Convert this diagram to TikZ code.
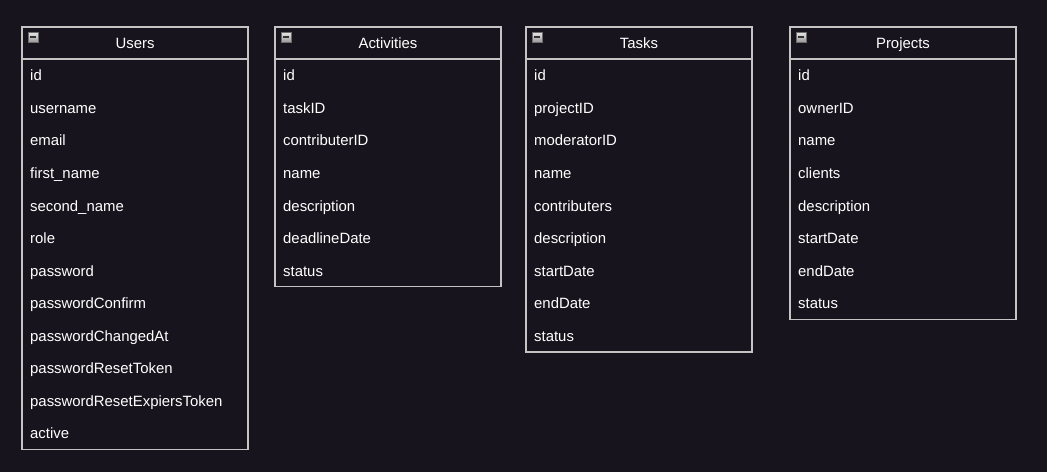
\documentclass[tikz,border=0pt]{standalone}
\usepackage{fontspec}
\setmainfont{Liberation Sans}
\definecolor{bgc}{HTML}{18141D}
\definecolor{framec}{HTML}{C4C4C4}
\definecolor{iconhi}{HTML}{E8E8E8}
\definecolor{iconlo}{HTML}{9A9A9A}
\tikzset{
  framebox/.style={draw=framec,line width=1.2pt},
  fieldtext/.style={anchor=base west,text=white,inner sep=0pt,font=\fontsize{14.9}{17}\selectfont},
  titletext/.style={anchor=base,text=white,inner sep=0pt,font=\fontsize{14.9}{17}\selectfont},
  iconbox/.style={draw=iconlo!70!black,line width=0.6pt,top color=iconhi,bottom color=iconlo},
  iconbar/.style={draw=black!80,line width=1.6pt}
}
\newcommand\mkentity[5]{%
  \pgfmathsetmacro\xr{#2+226}%
  \pgfmathsetmacro\yb{59+32.55*#4}%
  \pgfmathsetmacro\xc{#2+113}%
  \draw[framebox] (#2,27) rectangle (\xr,\yb);
  \draw[framebox] (#2,59) -- (\xr,59);
  \node[titletext] (#1-title) at (\xc,48.5) {#3};
  \shade[iconbox] ({#2+6},32) rectangle ({#2+16},42);
  \draw[iconbar] ({#2+8},37) -- ({#2+14},37);
  \foreach \f [count=\i] in {#5} {
    \node[fieldtext] (#1-\i) at ({#2+8},{80.8+32.55*(\i-1)}) {\f};
  }
}
\begin{document}
\begin{tikzpicture}[x=1pt,y=-1pt]
\fill[bgc] (0,0) rectangle (1047,472);
\useasboundingbox (0,0) rectangle (1047,472);
\mkentity{users}{22}{Users}{12}{id,username,email,first\_name,second\_name,role,password,passwordConfirm,passwordChangedAt,passwordResetToken,passwordResetExpiersToken,active}
\mkentity{activities}{275}{Activities}{7}{id,taskID,contributerID,name,description,deadlineDate,status}
\mkentity{tasks}{526}{Tasks}{9}{id,projectID,moderatorID,name,contributers,description,startDate,endDate,status}
\mkentity{projects}{790}{Projects}{8}{id,ownerID,name,clients,description,startDate,endDate,status}
\end{tikzpicture}
\end{document}
